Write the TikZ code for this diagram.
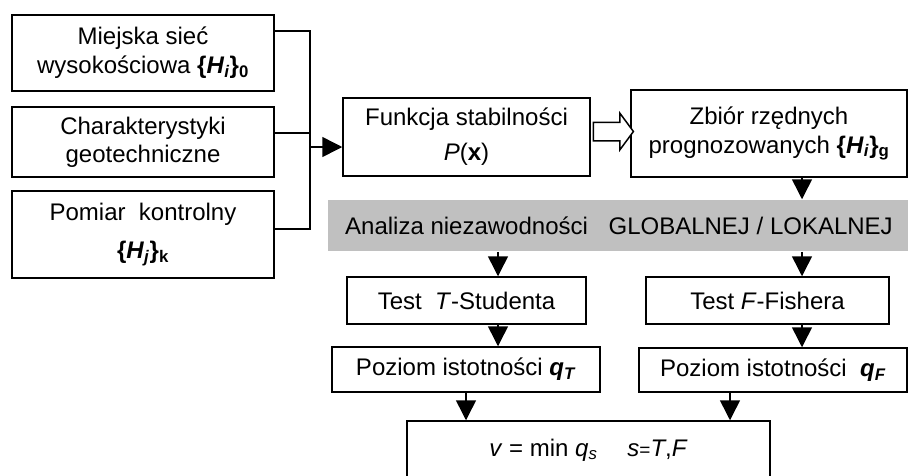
\documentclass[tikz,border=0pt]{standalone}
\usepackage{fontspec}
\setmainfont{Liberation Sans}
\usepackage{tikz}
\definecolor{gray300}{HTML}{C0C0C0}
\usetikzlibrary{arrows.meta,shapes.arrows}
\tikzstyle{blok}=[draw=black, fill=white, inner sep=0pt, align=center, font=\fontsize{24}{29}\selectfont]
\tikzstyle{pasek}=[fill=gray300, inner sep=0pt, font=\fontsize{24}{29}\selectfont]
\tikzstyle{podwojna}=[single arrow, draw=black, fill=white, inner xsep=0pt, inner ysep=8.5pt, text height=0pt, text depth=0pt, single arrow head extend=9pt, single arrow tip angle=107, minimum height=40pt]
\newcommand{\bi}[1]{\textbf{\textit{#1}}}

\begin{document}
\begin{tikzpicture}[x=1pt, y=-1pt, line width=1.5pt, ->, >={Triangle[length=20pt,width=20pt]}]
	\clip (0,0) rectangle (908,475);
	\node[blok, minimum width=262pt, minimum height=76pt] (siec) at (143,53) {\raisebox{-4pt}{Miejska sieć}\\\raisebox{-4pt}{wysokościowa \textbf{\{\textit{H}\textsubscript{\textit{i}}\}\textsubscript{0}}}};
	\node[blok, minimum width=262pt, minimum height=70pt] (geo) at (143,142) {\raisebox{-3pt}{Charakterystyki}\\\raisebox{-2pt}{geotechniczne}};
	\node[blok, minimum width=262pt, minimum height=87pt] (pomiar) at (143,234.5) {\raisebox{-2pt}{Pomiar\ \ kontrolny}\\[8pt]\raisebox{-3pt}{\textbf{\{\textit{H}\textsubscript{\textit{j}}\}\textsubscript{k}}}};
	\node[blok, minimum width=247pt, minimum height=78pt] (funkcja) at (466.5,137) {Funkcja stabilności\\[6pt]\textit{P}(\textbf{x})};
	\node[blok, minimum width=276pt, minimum height=87pt] (zbior) at (769,133.5) {Zbiór rzędnych\\prognozowanych \textbf{\{\textit{H}\textsubscript{\textit{i}}\}\textsubscript{g}}};
	\node[podwojna] (przejscie) at (610,131.5) {};
	\node[pasek, minimum width=582pt, minimum height=51pt] (analiza) at (619,225.5) {\raisebox{-2pt}{Analiza niezawodności\hspace{14pt} GLOBALNEJ / LOKALNEJ}};
	\node[blok, minimum width=239pt, minimum height=47pt] (student) at (466.5,300.5) {Test\ \ \textit{T}-Studenta};
	\node[blok, minimum width=243pt, minimum height=47pt] (fisher) at (767.5,300.5) {Test \textit{F}-Fishera};
	\node[blok, minimum width=268pt, minimum height=45pt] (qt) at (466,369.5) {Poziom istotności \bi{q}\textsubscript{\bi{T}}};
	\node[blok, minimum width=268pt, minimum height=44pt] (qf) at (773,370) {Poziom istotności\ \ \bi{q}\textsubscript{\bi{F}}};
	\node[blok, minimum width=363pt, minimum height=58pt] (wynik) at (588.5,450) {\textit{v} = min \textit{q}\textsubscript{\textit{s}}\hspace{30pt}\textit{s}{\fontsize{19}{22}\selectfont=}\textit{T},\textit{F}};
	\coordinate (j1) at (310,31);
	\coordinate (j2) at (310,133);
	\coordinate (j3) at (310,229);
	\coordinate (szyna) at (310,147);
	\coordinate (lewa) at (498,0);
	\coordinate (prawa) at (802,0);
	\coordinate (dol1) at (466,0);
	\coordinate (dol2) at (730,0);
	\draw[-] (j1 -| siec.east) -- (j1) -- (j3) -- (j3 -| pomiar.east);
	\draw[-] (j2 -| geo.east) -- (j2);
	\draw (szyna) -> (szyna -| funkcja.west);
	\draw (zbior.south -| prawa) -> (analiza.north -| prawa);
	\draw (analiza.south -| lewa) -> (student.north -| lewa);
	\draw (analiza.south -| prawa) -> (fisher.north -| prawa);
	\draw (student.south -| lewa) -> (qt.north -| lewa);
	\draw (fisher.south -| prawa) -> (qf.north -| prawa);
	\draw (qt.south -| dol1) -> (wynik.north -| dol1);
	\draw (qf.south -| dol2) -> (wynik.north -| dol2);
\end{tikzpicture}
\end{document}
